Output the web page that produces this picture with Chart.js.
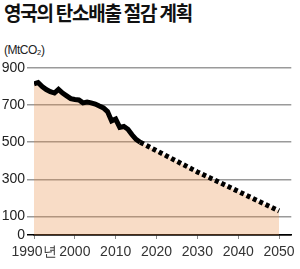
<!DOCTYPE html>
<html>
<head>
<meta charset="utf-8">
<script src="https://cdn.jsdelivr.net/npm/chart.js@4"></script>
<style>
  body { margin: 0; background: #fff; }
  #wrap { position: relative; width: 300px; height: 269px; }
  #title {
    position: absolute; left: 4px; top: -2px;
    font: bold 20px "Noto Sans CJK KR", sans-serif;
    letter-spacing: -1.3px; color: #111; white-space: nowrap;
    transform: scaleX(0.95); transform-origin: left top;
  }
  #unit {
    position: absolute; left: 4px; top: 43px;
    font: 12px "Liberation Sans Narrow", "Liberation Sans", sans-serif;
    letter-spacing: -0.5px; color: #222;
  }
  canvas { position: absolute; left: 0; top: 0; }
</style>
</head>
<body>
<div id="wrap">
  <div id="title">영국의 탄소배출 절감 계획</div>
  <div id="unit">(MtCO₂)</div>
  <canvas id="chart" width="300" height="269"></canvas>
</div>
<script>
// 실적 (1990~2016)
const anosReal = [1990, 1991, 1992, 1993, 1994, 1995, 1996, 1997, 1998, 1999, 2000, 2001, 2002,
  2003, 2004, 2005, 2006, 2007, 2008, 2009, 2010, 2011, 2012, 2013, 2014, 2015, 2016];
const emissaoReal = [815, 822, 800, 784, 772, 765, 785, 765, 750, 735, 730, 728, 712,
  716, 712, 706, 695, 685, 665, 615, 625, 580, 585, 570, 540, 515, 500];

// 계획 (점선)
const anosPlano = [2016, 2030, 2050];
const emissaoPlano = [500, 340, 130];

const yTicks = [0, 100, 300, 500, 700, 900];
const xTicks = [1990, 2000, 2010, 2020, 2030, 2040, 2050];

// semi-transparente para a grade aparecer por baixo
const corArea = "rgba(232,138,66,0.3)";
const fonte = "'Liberation Sans Narrow', 'Liberation Sans', sans-serif";

function pontos(xs, ys) {
  return xs.map((x, i) => ({ x: x, y: ys[i] }));
}

// área única, sem emenda entre real e plano
const area = pontos(anosReal, emissaoReal).concat(pontos(anosPlano.slice(1), emissaoPlano.slice(1)));

new Chart(document.getElementById("chart"), {
  type: "line",
  data: {
    datasets: [{
      data: pontos(anosReal, emissaoReal),
      borderColor: "#000",
      borderWidth: 5,
      fill: false,
      pointRadius: 0,
      tension: 0
    }, {
      data: pontos(anosPlano, emissaoPlano),
      borderColor: "#000",
      borderWidth: 5,
      borderDash: [4, 3],
      borderCapStyle: "butt",
      fill: false,
      pointRadius: 0,
      tension: 0
    }, {
      data: area,
      borderWidth: 0,
      borderColor: "rgba(0,0,0,0)",
      backgroundColor: corArea,
      fill: "origin",
      pointRadius: 0,
      tension: 0
    }]
  },
  options: {
    responsive: false,
    animation: false,
    layout: { padding: { top: 68, right: 8, left: 0, bottom: 0 } },
    plugins: { legend: { display: false }, tooltip: { enabled: false } },
    scales: {
      x: {
        type: "linear",
        min: 1990,
        max: 2053,
        afterBuildTicks: s => { s.ticks = xTicks.map(v => ({ value: v })); },
        afterFit: s => { s.height = 34; },
        ticks: {
          color: "#333",
          padding: 5,
          autoSkip: false,
          maxRotation: 0,
          minRotation: 0,
          font: { family: fonte, size: 14 },
          callback: v => v === 1990 ? "1990년" : String(v)
        },
        grid: { drawOnChartArea: false, color: "#888", tickLength: 4 },
        border: { color: "#000", width: 1.5 }
      },
      y: {
        min: 0,
        max: 900,
        afterBuildTicks: s => { s.ticks = yTicks.map(v => ({ value: v })); },
        afterFit: s => { s.width = 34; },
        ticks: {
          color: "#222",
          padding: 2,
          font: { family: fonte, size: 14 }
        },
        grid: {
          color: c => c.tick && c.tick.value === 0 ? "#000" : "#9a9a9a",
          lineWidth: 1.5,
          tickLength: 7
        },
        border: { display: false }
      }
    }
  }
});
</script>
</body>
</html>
